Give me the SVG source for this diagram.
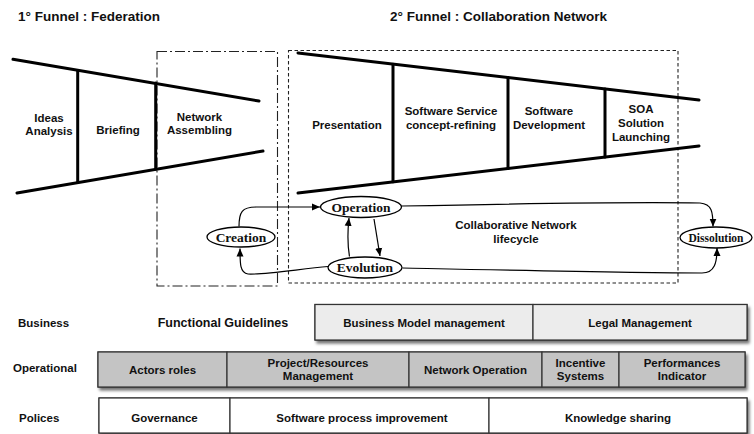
<svg xmlns="http://www.w3.org/2000/svg" width="754" height="434" viewBox="0 0 754 434">
<style>
.t{font-family:"Liberation Sans",Arial,sans-serif;font-weight:bold;font-size:11.5px;fill:#111;text-anchor:middle}
.title{font-family:"Liberation Sans",Arial,sans-serif;font-weight:bold;font-size:13.5px;fill:#111}
.lbl{font-family:"Liberation Sans",Arial,sans-serif;font-weight:bold;font-size:11.5px;fill:#111}
.s{font-family:"Liberation Serif","Times New Roman",serif;font-weight:bold;font-size:13.5px;fill:#111;text-anchor:middle}
.fun{stroke:#000;stroke-width:3;fill:none;stroke-linecap:round}
.ell{fill:#fff;stroke:#000;stroke-width:1.3}
.con{fill:none;stroke:#000;stroke-width:1.2}
.biz{fill:#ececec;stroke:#333;stroke-width:1.2}
.ops{fill:#c4c4c4;stroke:#333;stroke-width:1.2}
.pol{fill:#fff;stroke:#333;stroke-width:1.2}
</style>
<defs>
<marker id="ar" markerWidth="8" markerHeight="8" refX="8" refY="4" orient="auto" markerUnits="userSpaceOnUse">
<path d="M0,0.5 L8,4 L0,7.5 Z" fill="#000"/>
</marker>
<filter id="sh" x="-5%" y="-20%" width="110%" height="150%">
<feDropShadow dx="2" dy="3" stdDeviation="1.5" flood-color="#000" flood-opacity="0.55"/>
</filter>
</defs>
<rect width="754" height="434" fill="#fff"/>

<text class="title" x="18" y="21">1° Funnel : Federation</text>
<text class="title" x="390" y="21">2° Funnel : Collaboration Network</text>

<!-- boxes -->
<rect x="157" y="51.5" width="120.5" height="234.5" fill="none" stroke="#222" stroke-width="1.1" stroke-dasharray="10,3,2,3"/>
<rect x="288.5" y="50.5" width="389.5" height="232.5" fill="none" stroke="#222" stroke-width="1.1" stroke-dasharray="3.5,2.5"/>

<!-- funnel 1 -->
<g id="funnel1">
<line class="fun" x1="13" y1="59.3" x2="259" y2="101"/>
<line class="fun" x1="17" y1="193" x2="263" y2="151"/>
<line class="fun" x1="77.7" y1="70.5" x2="77.7" y2="182.6"/>
<line class="fun" x1="155.7" y1="83" x2="155.7" y2="169"/>
<text class="t" x="49" y="121.5">Ideas</text>
<text class="t" x="49" y="134.5">Analysis</text>
<text class="t" x="118" y="134">Briefing</text>
<text class="t" x="199.5" y="120.5">Network</text>
<text class="t" x="199.5" y="133.5">Assembling</text>
</g>

<!-- funnel 2 -->
<g id="funnel2">
<line class="fun" x1="298" y1="53" x2="699" y2="100"/>
<line class="fun" x1="298" y1="193" x2="699" y2="146"/>
<line class="fun" x1="393" y1="64.3" x2="393" y2="181.8"/>
<line class="fun" x1="508" y1="77.6" x2="508" y2="168.4"/>
<line class="fun" x1="605" y1="89" x2="605" y2="157"/>
<text class="t" x="347" y="129">Presentation</text>
<text class="t" x="451" y="115">Software Service</text>
<text class="t" x="451" y="129">concept-refining</text>
<text class="t" x="549" y="115">Software</text>
<text class="t" x="549" y="129">Development</text>
<text class="t" x="641" y="113">SOA</text>
<text class="t" x="641" y="127">Solution</text>
<text class="t" x="641" y="141">Launching</text>
</g>

<g id="lifecycle-label">
<text class="t" x="516" y="229">Collaborative Network</text>
<text class="t" x="516" y="243">lifecycle</text>
</g>

<!-- connectors -->
<g id="connectors">
<path class="con" d="M239,226.5 C239,212 242,207 256,207 L320,207" marker-end="url(#ar)"/>
<path class="con" d="M374,219 L380,256" marker-end="url(#ar)"/>
<path class="con" d="M349.5,256.5 C347.5,245 347.5,232 349,218" marker-end="url(#ar)"/>
<path class="con" d="M328,266.5 C300,269 262,275 248,274 C240,273 240,264 240,248.5" marker-end="url(#ar)"/>
<path class="con" d="M401.5,206 C500,204 640,202 700,203 C712,204 713,212 713,226.5" marker-end="url(#ar)"/>
<path class="con" d="M402.5,268 C500,270 640,273 702,273 C715,273 717,262 717,248" marker-end="url(#ar)"/>
</g>

<g id="operation"><ellipse class="ell" cx="361" cy="207" rx="40.5" ry="10.5"/><text class="s" x="361" y="211.5">Operation</text></g>
<g id="creation"><ellipse class="ell" cx="241" cy="237" rx="34" ry="10"/><text class="s" x="241" y="241.5">Creation</text></g>
<g id="evolution"><ellipse class="ell" cx="365" cy="267.5" rx="37" ry="10.5"/><text class="s" x="365" y="272">Evolution</text></g>
<g id="dissolution"><ellipse class="ell" cx="716" cy="237.5" rx="36" ry="10.5"/><text class="s" x="716" y="241.5" style="font-size:11.5px">Dissolution</text></g>

<!-- rows -->
<text class="lbl" x="18" y="327">Business</text>
<text class="lbl" x="13" y="372">Operational</text>
<text class="lbl" x="19" y="421.5">Polices</text>
<text class="t" x="223" y="327" style="font-size:12.5px">Functional Guidelines</text>

<g id="business-row">
<rect class="biz" x="315" y="304.5" width="432" height="35.5" filter="url(#sh)"/>
<g id="business-model"><rect class="biz" x="315" y="304.5" width="218" height="35.5"/><text class="t" x="424" y="327">Business Model management</text></g>
<g id="legal"><rect class="biz" x="533" y="304.5" width="214" height="35.5"/><text class="t" x="640" y="327">Legal Management</text></g>
</g>

<g id="operational-row">
<rect class="ops" x="98" y="352" width="647" height="35" filter="url(#sh)"/>
<g id="actors"><rect class="ops" x="98" y="352" width="129" height="35"/><text class="t" x="162.5" y="373.5">Actors roles</text></g>
<g id="project"><rect class="ops" x="227" y="352" width="182" height="35"/><text class="t" x="318" y="366.5">Project/Resources</text><text class="t" x="318" y="380">Management</text></g>
<g id="netop"><rect class="ops" x="409" y="352" width="133" height="35"/><text class="t" x="475.5" y="373.5">Network Operation</text></g>
<g id="incentive"><rect class="ops" x="542" y="352" width="77" height="35"/><text class="t" x="580.5" y="366.5">Incentive</text><text class="t" x="580.5" y="380">Systems</text></g>
<g id="perf"><rect class="ops" x="619" y="352" width="126" height="35"/><text class="t" x="682" y="366.5">Performances</text><text class="t" x="682" y="380">Indicator</text></g>
</g>

<g id="polices-row">
<rect class="pol" x="99" y="398" width="648" height="35" filter="url(#sh)"/>
<g id="governance"><rect class="pol" x="99" y="398" width="131" height="35"/><text class="t" x="164.5" y="421.5">Governance</text></g>
<g id="spi"><rect class="pol" x="230" y="398" width="259" height="35"/><text class="t" x="362" y="421.5">Software process improvement</text></g>
<g id="knowledge"><rect class="pol" x="489" y="398" width="258" height="35"/><text class="t" x="618" y="421.5">Knowledge sharing</text></g>
</g>
</svg>
